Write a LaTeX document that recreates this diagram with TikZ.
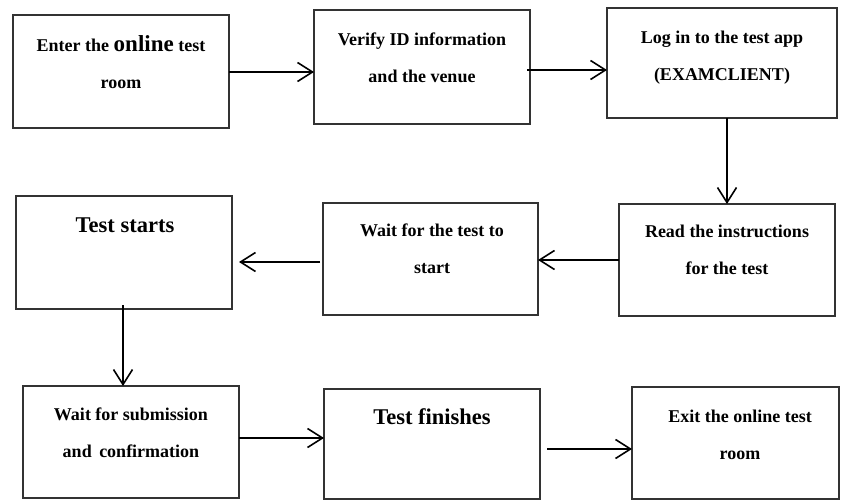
\documentclass[tikz,border=0pt]{standalone}
\usepackage{fontspec}
\setmainfont{Liberation Serif}
\usetikzlibrary{arrows.meta}
\begin{document}
\begin{tikzpicture}[x=1pt,y=-1pt,
  box/.style={draw=black!80,line width=1.3pt,inner sep=0pt,outer sep=0pt},
  txt/.style={align=center,font=\fontsize{18}{37}\selectfont\bfseries,inner sep=0pt},
  big/.style={align=center,font=\fontsize{22.5}{27}\selectfont\bfseries,inner sep=0pt},
  arr/.style={line width=1.6pt,-{Straight Barb[length=15pt,width=19pt,line width=1.6pt]}}]
\useasboundingbox (0,0) rectangle (841,500);
% boxes
\node[box,minimum width=216pt,minimum height=113pt] (b1) at (121,71.5) {};
\node[box,minimum width=216pt,minimum height=114pt] (b2) at (422,67) {};
\node[box,minimum width=230pt,minimum height=110pt] (b3) at (722,63) {};
\node[box,minimum width=216pt,minimum height=112pt] (b4) at (727,260) {};
\node[box,minimum width=215pt,minimum height=112pt] (b5) at (430.5,259) {};
\node[box,minimum width=216pt,minimum height=113pt] (b6) at (124,252.5) {};
\node[box,minimum width=216pt,minimum height=112pt] (b7) at (131,442) {};
\node[box,minimum width=216pt,minimum height=110pt] (b8) at (432,444) {};
\node[box,minimum width=207pt,minimum height=112pt] (b9) at (735.5,443) {};
% texts
\node[txt] (t1) at (121,62) {Enter the {\fontsize{23}{37}\selectfont online} test\\room};
\node[txt] (t2) at (422,58) {Verify ID information\\and the venue};
\node[txt] (t3) at (722,58) {Log in to the test app\\(EXAMCLIENT)};
\node[txt] (t4) at (727,250) {Read the instructions\\for the test};
\node[txt] (t5) at (432,249) {Wait for the test to\\start};
\node[big] (t6) at (125,225) {Test starts};
\node[txt] (t7) at (131,433) {Wait for submission\\and\, confirmation};
\node[big] (t8) at (432,417) {Test finishes};
\node[txt] (t9) at (740,435) {Exit the online test\\room};
% arrows
\draw[arr] ([yshift=-0.5pt]b1.east) -- ([yshift=-0.5pt]b1.east -| b2.west);
\draw[arr] ([xshift=-3pt,yshift=-3pt]b2.east) -- ([yshift=-3pt]b2.east -| b3.west);
\draw[arr] (b3.south -| 727,0) -- (b4.north);
\draw[arr] (b4.west) -- (b4.west -| b5.east);
\draw[arr] ([xshift=-3pt,yshift=-3pt]b5.west) -- ([xshift=7pt,yshift=-3pt]b5.west -| b6.east);
\draw[arr] ([yshift=4pt]b6.south -| 123,0) -- (b7.north -| 123,0);
\draw[arr] ([yshift=4pt]b7.east) -- ([yshift=4pt]b7.east -| b8.west);
\draw[arr] ([xshift=7pt,yshift=-5pt]b8.east) -- ([yshift=-5pt]b8.east -| b9.west);
\end{tikzpicture}
\end{document}
